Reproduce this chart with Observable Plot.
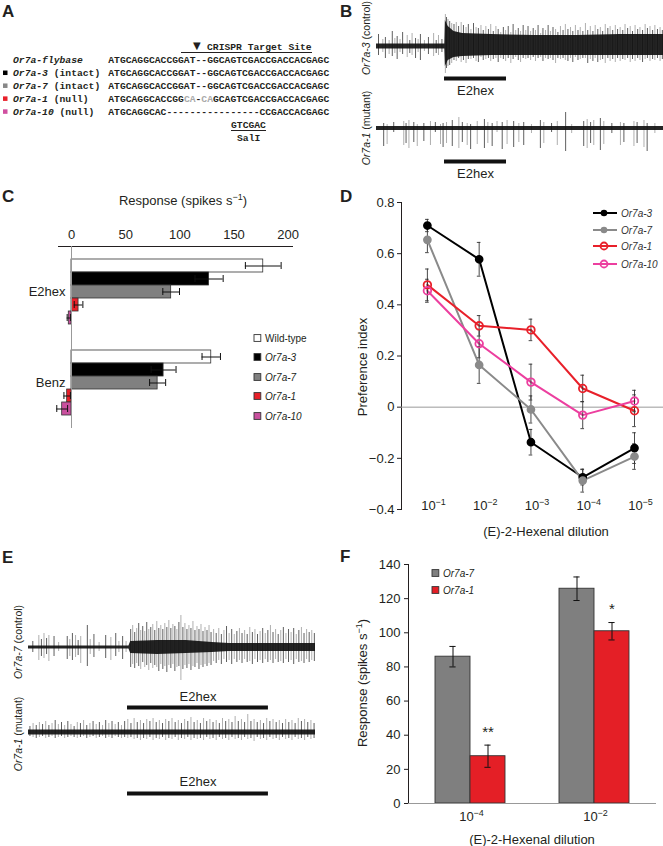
<!DOCTYPE html>
<html><head><meta charset="utf-8">
<script src="https://cdn.jsdelivr.net/npm/d3@7"></script>
<script src="https://cdn.jsdelivr.net/npm/@observablehq/plot@0.6"></script>
<style>
body{margin:0;background:#fff;}
#fig{position:relative;width:663px;height:846px;overflow:hidden;background:#fff;font-family:"Liberation Sans",Arial,sans-serif;color:#231f20}
.pp{position:absolute}
.pp svg{display:block;max-width:none}
#ov{position:absolute;left:0;top:0;pointer-events:none}
</style></head>
<body><div id="fig"></div>
<script>
// ---------- Panel A (sequence alignment)
const seqLabels = ["Or7a-flybase","Or7a-3","Or7a-7","Or7a-1","Or7a-10"];
const seqNotes = [""," (intact)"," (intact)"," (null)"," (null)"];
const seqSquares = [null,"#000000","#888888","#e8202a","#d04fa0"];
const seqParts = [
  [["ATGCAGGCACCGGAT--GGCAGTCGACCGACCACGAGC",0]],
  [["ATGCAGGCACCGGAT--GGCAGTCGACCGACCACGAGC",0]],
  [["ATGCAGGCACCGGAT--GGCAGTCGACCGACCACGAGC",0]],
  [["ATGCAGGCACCGG",0],["CA",1],["-",0],["CA",1],["GCAGTCGACCGACCACGAGC",0]],
  [["ATGCAGGCAC----------------CCGACCACGAGC",0]]
];

// ---------- Panel C (bar chart)
const odors = ["E2hex","Benz"];
const genotypes = ["Wild-type","Or7a-3","Or7a-7","Or7a-1","Or7a-10"];
const genoColors = ["#ffffff","#000000","#808080","#e8202a","#c9509e"];
const respE2hex = [177,127,92,6.5,-2.5];
const errE2hex = [16.5,13,7.7,4,1.5];
const respBenz = [129,85,79.5,-4,-8.6];
const errBenz = [8.5,11.5,7.4,3,5];
const ticksC = [0,50,100,150,200];

// ---------- Panel D (preference index)
const dilExp = [1,2,3,4,5];
const dSeries = ["Or7a-3","Or7a-7","Or7a-1","Or7a-10"];
const dColors = ["#000000","#8a8a8a","#e8202a","#ec3f9f"];
const dFilled = [true,true,false,false];
const prefOr7a3 = [0.71,0.578,-0.137,-0.274,-0.16];
const errOr7a3  = [0.024,0.066,0.05,0.03,0.06];
const prefOr7a7 = [0.654,0.165,-0.009,-0.287,-0.193];
const errOr7a7  = [0.05,0.072,0.053,0.045,0.05];
const prefOr7a1 = [0.478,0.318,0.302,0.073,-0.014];
const errOr7a1  = [0.062,0.04,0.042,0.052,0.062];
const prefOr7a10 = [0.455,0.248,0.098,-0.031,0.024];
const errOr7a10  = [0.045,0.055,0.07,0.053,0.042];
const ticksD = [-0.4,-0.2,0,0.2,0.4,0.6,0.8];

// ---------- Panel F (bars)
const fDilExp = [-4,-2];
const fGenos = ["Or7a-7","Or7a-1"];
const fColors = ["#7f7f7f","#e41f26"];
const fResp7 = [86,125.8];
const fErr7 = [6,6.9];
const fResp1 = [27.7,100.9];
const fErr1 = [6.5,5.1];
const fSig = ["**","*"];
const ticksF = [0,20,40,60,80,100,120,140];

// ---------- Recordings (B, E): [time, up, down] spikes; core bands
const stimB = [23.7,45.3];
const stimE = [34.5,83.6];
const bTopSpikes = [[0.7,12,9],[2.2,7,6],[3.1,9,12],[4.4,6,8],[5.5,15,10],[6.4,8,7],[7.2,10,13],[8.2,7,6],[9.1,14,8],[10.7,11,11],[11.6,6,7],[12.4,13,9],[13.6,8,12],[14.5,7,6],[15.3,12,14],[16.7,6,5],[18.1,9,8],[19.9,13,10],[20.8,6,7],[21.6,11,9],[22.8,7,6],
[24.0,32,27],[24.4,29,22],[24.9,27,20],[25.5,25,19],[26.2,23,17],[27,22,14],[27.8,24,15],[28.6,20,12],[29.5,24,16],[30.3,21,14],[31.2,19,17],[32,22,13],[32.9,17,13],[33.8,23,12],[34.7,19,15],[35.5,18,16],[36.4,21,11],[37.2,16,14],[38.1,20,13],[39,17,12],[39.8,22,15],[40.7,15,13],[41.6,20,12],[42.4,17,16],[43.3,14,12],[44.2,19,13],[45,16,15],[45.9,20,12],[46.8,14,17],[47.6,22,13],[48.5,16,11],[49.4,18,14],[50.2,15,16],[51.1,21,12],[52,16,13],[52.8,20,12],[53.7,15,14],[54.6,18,11],[55.4,16,15],[56.3,21,12],[57.2,13,11],[58,18,15],[58.9,16,12],[59.8,21,13],[60.6,15,12],[61.5,19,14],[62.4,17,17],[63.2,14,12],[64.1,20,13],[65,16,12],[65.8,22,14],[66.7,17,15],[67.6,19,12],[68.4,15,16],[69.3,21,11],[70.2,16,14],[71,19,13],[71.9,15,12],[72.8,23,12],[73.6,16,17],[74.5,20,13],[75.4,15,15],[76.2,21,12],[77.1,17,16],[78,19,14],[78.8,15,13],[79.7,22,17],[80.6,18,12],[81.4,20,15],[82.3,16,13],[83.2,21,16],[84,17,12],[84.9,19,15],[85.8,16,13],[86.6,22,14],[87.5,18,12],[88.4,20,16],[89.2,15,13],[90.1,21,15],[91,17,12],[91.8,19,14],[92.7,16,16],[93.6,22,13],[94.4,18,12],[95.3,20,15],[96.2,16,13],[97,21,14],[97.9,17,12],[98.8,19,15],[99.6,16,13]];
const bTopCoreT = [0,23.8,24,25,27,30,40,55,70,85,100];
const bTopCoreHi = [2.5,2.5,26,20,15,13,12,11,11,12,12];
const bTopCoreLo = [-2.5,-2.5,-20,-14,-11,-10,-9,-9,-9,-9,-9];
const bBotSpikes = [[2.5,5,18],[3.7,4,16],[6,6,4],[9.5,7,17],[10.3,5,15],[11.3,8,20],[13.0,6,14],[14.2,4,18],[16.5,5,13],[18.8,7,17],[20.5,6,4],[22.3,4,16],[23.2,5,19],[24.4,6,15],[26.4,8,18],[28.7,11,20],[29.9,6,14],[31.6,5,17],[32.8,4,21],[35.1,7,16],[37.6,9,20],[38.8,6,15],[40.3,5,18],[42,7,4],[43.8,6,21],[45.5,8,16],[47.8,7,19],[49.6,5,14],[51.3,6,17],[54,4,5],[57.1,8,20],[58.3,6,15],[61,5,4],[63.0,7,17],[65.9,16,23],[68,4,5],[72.2,7,18],[73.4,9,20],[74.6,6,15],[75.7,8,17],[78.0,10,22],[79.2,7,16],[82,5,5],[85.0,6,17],[86.2,5,14],[89.7,7,18],[90.8,6,15],[93.2,8,19],[94.3,5,23],[97,5,5]];
const bBotCoreT = [0,100];
const bBotCoreHi = [2,2];
const bBotCoreLo = [-2,-2];
const eTopSpikes = [[1.5,6,5],[3.6,12,13],[4.5,8,9],[5.4,14,11],[6.3,9,7],[7.1,12,14],[8.9,11,9],[10.5,5,4],[13.5,11,12],[14.4,8,9],[15.3,14,13],[16.4,12,10],[17.3,7,8],[18.2,11,16],[20.5,22,19],[21.5,8,7],[22.8,13,10],[24.6,5,4],[26.9,12,11],[28.7,10,13],[30.4,14,9],[31.5,6,5],[32.8,11,12],[34,6,5],
[35.6,18,20],[36.3,22,17],[37,15,21],[37.7,19,16],[38.4,24,19],[39.1,17,22],[39.8,21,15],[40.5,16,20],[41.2,25,18],[41.9,18,23],[42.6,20,16],[43.3,23,21],[44,17,18],[44.7,26,20],[45.4,19,24],[46.1,22,17],[46.8,18,22],[47.5,24,19],[48.2,20,25],[48.9,27,18],[49.6,19,21],[50.3,23,17],[51,21,24],[51.7,18,20],[52.4,25,19],[53.1,32,33],[53.8,20,22],[54.5,24,18],[55.2,18,21],[55.9,22,17],[56.6,19,23],[57.3,26,19],[58,17,20],[58.7,21,16],[59.4,18,22],[60.1,23,18],[60.8,16,20],[61.5,20,17],[62.2,17,19],[62.9,22,16],[63.6,15,18],[64.5,18,14],[65.4,14,16],[66.3,19,13],[67.2,13,17],[68.1,17,12],[69,21,15],[69.9,14,13],[70.8,18,17],[71.7,13,12],[72.6,16,15],[73.5,19,13],[74.4,14,16],[75.3,17,12],[76.2,13,15],[77.1,20,14],[78,15,17],[78.9,18,12],[79.8,13,15],[80.7,16,13],[81.6,19,16],[82.5,14,12],[83.4,17,15],[84.3,22,13],[85.2,15,16],[86.1,18,12],[87,13,15],[87.9,17,14],[88.8,20,16],[89.7,14,12],[90.6,18,15],[91.5,15,13],[92.4,19,17],[93.3,13,12],[94.2,17,15],[95.1,20,14],[96,14,16],[96.9,18,12],[97.8,15,15],[98.7,17,13],[99.6,14,14]];
const eTopCoreT = [0,35,35.6,45,55,64,70,85,100];
const eTopCoreHi = [1.5,1.5,6,7,7,5,4,4,4];
const eTopCoreLo = [-1.5,-1.5,-6,-7,-6,-5,-4,-4,-4];
const eBotSpikes = [[0.5,6,4],[1.6,9,5],[2.7,7,6],[3.8,10,5],[4.9,8,4],[6,11,6],[7.1,7,5],[8.2,9,4],[9.3,12,6],[10.4,8,5],[11.5,10,4],[12.6,7,6],[13.7,11,5],[14.8,8,4],[15.9,6,5],[17,10,6],[18.1,9,5],[19.2,12,4],[20.3,7,6],[21.4,9,5],[22.5,11,4],[23.6,8,6],[24.7,10,5],[25.8,7,4],[26.9,12,6],[28,9,5],[29.1,11,6],[30.2,8,4],[31.3,10,5],[32.4,7,6],[33.5,11,5],[34.6,13,6],[35.7,9,5],[36.8,14,7],[37.9,10,6],[39,12,8],[40.1,9,6],[41.2,13,7],[42.3,11,5],[43.4,14,8],[44.5,10,6],[45.6,12,7],[46.7,9,5],[47.8,13,8],[48.9,11,6],[50,14,7],[51.1,10,5],[52.2,12,8],[53.3,9,6],[54.4,13,7],[55.5,11,5],[56.6,15,8],[57.7,10,6],[58.8,12,7],[59.9,9,6],[61,14,8],[62.1,11,5],[63.2,13,7],[64.3,10,6],[65.4,12,8],[66.5,9,5],[67.6,14,7],[68.7,11,6],[69.8,13,8],[70.9,10,5],[72,16,7],[73.1,11,6],[74.2,13,8],[75.3,10,5],[76.4,18,7],[77.5,11,6],[78.6,13,9],[79.7,10,5],[80.8,12,7],[81.9,9,6],[83,14,8],[84.1,11,5],[85.2,13,7],[86.3,10,6],[87.4,12,8],[88.5,9,5],[89.6,13,7],[90.7,10,6],[91.8,12,8],[92.9,9,5],[94,14,7],[95.1,11,6],[96.2,13,8],[97.3,10,5],[98.4,12,7],[99.5,9,6]];
const eBotCoreT = [0,100];
const eBotCoreHi = [2.5,2.5];
const eBotCoreLo = [-2.5,-2.5];

// ================= drawing
const fig = document.getElementById("fig");
const FONT = '"Liberation Sans", Arial, sans-serif';
const ST = {fontFamily: FONT, fontSize: "13px", color: "#231f20", background: "transparent", overflow: "visible"};
function place(el, left, top, w, h) {
  const d = document.createElement("div");
  d.className = "pp";
  d.style.left = left + "px"; d.style.top = top + "px";
  d.style.width = w + "px"; d.style.height = h + "px";
  d.appendChild(el); fig.appendChild(d);
}

function tracePlot(spikes, cT, cHi, cLo, dom, w, h, stim, barY, textY) {
  const core = cT.map((t, i) => ({t, hi: cHi[i], lo: cLo[i]}));
  return Plot.plot({
    width: w, height: h, margin: 0, style: ST,
    x: {domain: [0, 100], axis: null},
    y: {domain: dom, axis: null},
    marks: [
      Plot.ruleX(spikes, {x: d => d[0], y1: d => -d[2], y2: d => d[1],
        stroke: (d, i) => (i % 2 ? "#8c8c8c" : "#1a1a1a"), strokeWidth: 0.7}),
      Plot.areaY(core, {x: "t", y1: "lo", y2: "hi", fill: "#111", fillOpacity: 0.92}),
      Plot.ruleY([barY], {x1: stim[0], x2: stim[1], stroke: "#111", strokeWidth: 4}),
      Plot.text(["E2hex"], {x: (stim[0] + stim[1]) / 2, y: textY, text: d => d, fontSize: 13, fill: "#231f20"})
    ]
  });
}
place(tracePlot(bTopSpikes, bTopCoreT, bTopCoreHi, bTopCoreLo, [-54, 36], 287, 90, stimB, -32, -44), 376, 10, 287, 90);
place(tracePlot(bBotSpikes, bBotCoreT, bBotCoreHi, bBotCoreLo, [-57, 23], 287, 80, stimB, -33, -45), 376, 105, 287, 80);
place(tracePlot(eTopSpikes, eTopCoreT, eTopCoreHi, eTopCoreLo, [-68, 42], 287, 110, stimE, -60, -49), 28, 605, 287, 110);
place(tracePlot(eBotSpikes, eBotCoreT, eBotCoreHi, eBotCoreLo, [-75, 20], 287, 95, stimE, -61, -49), 28, 712, 287, 95);

// Panel C
const rowsC = odors.flatMap((o, oi) => genotypes.map((g, gi) => ({
  odor: o, geno: g,
  v: (oi ? respBenz : respE2hex)[gi], e: (oi ? errBenz : errE2hex)[gi], fill: genoColors[gi]})));
place(Plot.plot({
  width: 330, height: 250, marginTop: 55, marginBottom: 12, marginLeft: 58, marginRight: 38,
  style: ST,
  x: {domain: [-12, 204], axis: "top", ticks: ticksC, tickSize: 0, tickPadding: 8, line: true, label: null},
  y: {domain: genotypes, paddingInner: 0, paddingOuter: 0.85, axis: null},
  fy: {domain: odors, padding: 0, axis: null},
  marks: [
    Plot.barX(rowsC, {fy: "odor", y: "geno", x1: 0, x2: "v", fill: "fill", stroke: "#333", strokeWidth: 0.8}),
    Plot.ruleX([0], {stroke: "#999"}),
    Plot.ruleY(rowsC, {fy: "odor", y: "geno", x1: d => d.v - d.e, x2: d => d.v + d.e, stroke: "#111", strokeWidth: 1}),
    Plot.tickX(rowsC, {fy: "odor", y: "geno", x: d => d.v - d.e, insetTop: 3, insetBottom: 3, stroke: "#111"}),
    Plot.tickX(rowsC, {fy: "odor", y: "geno", x: d => d.v + d.e, insetTop: 3, insetBottom: 3, stroke: "#111"}),
    Plot.text(odors, {fy: d => d, text: d => d, frameAnchor: "left", textAnchor: "end", dx: 7, fontSize: 13, fill: "#231f20"})
  ]
}), 0, 190, 330, 250);

// Panel D
const dPref = [prefOr7a3, prefOr7a7, prefOr7a1, prefOr7a10];
const dErr = [errOr7a3, errOr7a7, errOr7a1, errOr7a10];
const rowsD = dSeries.flatMap((g, si) => dilExp.map((x, i) => ({g, x, v: dPref[si][i], e: dErr[si][i], c: dColors[si], filled: dFilled[si]})));
place(Plot.plot({
  width: 333, height: 350, marginTop: 12, marginBottom: 31, marginLeft: 71, marginRight: 0,
  style: ST,
  x: {domain: [0.5, 5.56], axis: null},
  y: {domain: [-0.4, 0.8], ticks: ticksD, tickSize: 4, tickPadding: 3, line: true, label: null,
      tickFormat: d => d === 0 ? "0" : d3.format(".1f")(d)},
  marks: [
    Plot.ruleY([0], {stroke: "#999"}),
    Plot.line(rowsD, {x: "x", y: "v", z: "g", stroke: "c", strokeWidth: 2}),
    Plot.ruleX(rowsD, {x: "x", y1: d => d.v - d.e, y2: d => d.v + d.e, stroke: "#333", strokeWidth: 0.9}),
    Plot.ruleY(rowsD, {y: d => d.v + d.e, x1: d => d.x - 0.035, x2: d => d.x + 0.035, stroke: "#333", strokeWidth: 0.9}),
    Plot.ruleY(rowsD, {y: d => d.v - d.e, x1: d => d.x - 0.035, x2: d => d.x + 0.035, stroke: "#333", strokeWidth: 0.9}),
    Plot.dot(rowsD.filter(d => d.filled), {x: "x", y: "v", r: 3.6, fill: "c", stroke: "c"}),
    Plot.dot(rowsD.filter(d => !d.filled), {x: "x", y: "v", r: 3.8, fill: "none", stroke: "c", strokeWidth: 1.8}),
    Plot.text(dilExp, {x: d => d, text: () => "10", frameAnchor: "bottom", dx: 1, fontSize: 13, fill: "#231f20"}),
    Plot.text(dilExp, {x: d => d, text: d => "\u2212" + d, frameAnchor: "bottom", dx: 8, dy: -5, textAnchor: "start", fontSize: 9, fill: "#231f20"})
  ]
}), 330, 190, 333, 350);

// Panel F
const rowsF = fDilExp.flatMap((dl, i) => [
  {dil: dl, g: fGenos[0], v: fResp7[i], e: fErr7[i], c: fColors[0], sig: ""},
  {dil: dl, g: fGenos[1], v: fResp1[i], e: fErr1[i], c: fColors[1], sig: fSig[i]}]);
place(Plot.plot({
  width: 333, height: 301, marginTop: 19, marginBottom: 43, marginLeft: 77, marginRight: 7,
  style: ST,
  fx: {domain: fDilExp, padding: 0, axis: null},
  x: {domain: fGenos, paddingInner: 0, paddingOuter: 0.75, axis: null},
  y: {domain: [0, 140], ticks: ticksF, tickSize: 4, tickPadding: 4, line: true, label: null},
  marks: [
    Plot.barY(rowsF, {fx: "dil", x: "g", y1: 0, y2: "v", fill: "c", stroke: "#333", strokeWidth: 0.9}),
    Plot.ruleY([0], {stroke: "#999"}),
    Plot.ruleX(rowsF, {fx: "dil", x: "g", y1: d => d.v - d.e, y2: d => d.v + d.e, stroke: "#111", strokeWidth: 1}),
    Plot.tickY(rowsF, {fx: "dil", x: "g", y: d => d.v - d.e, insetLeft: 14.4, insetRight: 14.4, stroke: "#111"}),
    Plot.tickY(rowsF, {fx: "dil", x: "g", y: d => d.v + d.e, insetLeft: 14.4, insetRight: 14.4, stroke: "#111"}),
    Plot.text(rowsF, {fx: "dil", x: "g", y: d => d.v + d.e, text: "sig", dy: -13, fontSize: 15, fill: "#231f20"}),
    Plot.text(fDilExp, {fx: d => d, text: () => "10", frameAnchor: "bottom", dy: 17, dx: -4, fontSize: 13, fill: "#231f20"}),
    Plot.text(fDilExp, {fx: d => d, text: d => "\u2212" + Math.abs(d), frameAnchor: "bottom", dy: 12, dx: 3, textAnchor: "start", fontSize: 9, fill: "#231f20"})
  ]
}), 330, 545, 333, 301);

// ---------- Overlay: panel letters, panel A text, legends, axis titles
let s = `<svg id="ov" width="663" height="846" xmlns="http://www.w3.org/2000/svg" font-family='${FONT}' fill="#231f20">`;
const letters = [["A",2,16.7],["B",340,16.7],["C",2,201.7],["D",340,201.7],["E",2,563],["F",340,561.7]];
for (const [l, x, y] of letters) s += `<text x="${x}" y="${y}" font-size="17" font-weight="bold">${l}</text>`;
// panel A
const MONO = `font-family='"Liberation Mono","Courier New",monospace' font-size="9.7" font-weight="bold"`;
s += `<text x="193" y="49" font-size="10" font-family="DejaVu Sans">\u25BC</text>`;
s += `<text x="207" y="49.5" ${MONO}>CRISPR Target Site</text>`;
s += `<line x1="181" x2="312" y1="52.5" y2="52.5" stroke="#231f20" stroke-width="1.2"/>`;
seqLabels.forEach((lab, i) => {
  const y = 62.8 + 12.93 * i;
  if (seqSquares[i]) s += `<rect x="3" y="${y - 5.2}" width="4.5" height="4.5" fill="${seqSquares[i]}"/>`;
  s += `<text x="13" y="${y}" ${MONO}><tspan font-style="italic">${lab}</tspan>${seqNotes[i]}</text>`;
  s += `<text x="108.3" y="${y}" ${MONO}>` + seqParts[i].map(([t, g]) => `<tspan${g ? ' fill="#aaaaaa"' : ''}>${t}</tspan>`).join("") + `</text>`;
});
s += `<text x="231" y="128.3" ${MONO}>GTCGAC</text>`;
s += `<line x1="231" x2="266" y1="130.5" y2="130.5" stroke="#231f20" stroke-width="1.1"/>`;
s += `<text x="237" y="140.5" ${MONO}>SalI</text>`;
// trace labels
const rot = (x, y, gene, note) => `<text transform="translate(${x},${y}) rotate(-90)" text-anchor="middle" dy="0.35em" font-size="10.5"><tspan font-style="italic">${gene}</tspan> ${note}</text>`;
s += rot(366, 38, "Or7a-3", "(control)") + rot(366, 128, "Or7a-1", "(mutant)");
s += rot(18, 642, "Or7a-7", "(control)") + rot(18, 734, "Or7a-1", "(mutant)");
// C title & legend
s += `<text x="183" y="204.5" text-anchor="middle" font-size="13">Response (spikes s<tspan dy="-5" font-size="9">\u22121</tspan><tspan dy="5">)</tspan></text>`;
const legCY = [338, 357, 377, 396, 416];
genotypes.forEach((g, i) => {
  s += `<rect x="254" y="${legCY[i] - 3.4}" width="6.8" height="6.8" fill="${genoColors[i]}" stroke="#333" stroke-width="0.9"/>`;
  s += `<text x="265" y="${legCY[i] + 3.6}" font-size="10"${i ? ' font-style="italic"' : ''}>${g}</text>`;
});
// D titles & legend
s += `<text transform="translate(362,367) rotate(-90)" text-anchor="middle" dy="0.35em" font-size="13">Preference index</text>`;
s += `<text x="546" y="535.5" text-anchor="middle" font-size="13">(E)-2-Hexenal dilution</text>`;
const legDY = [213, 230, 246, 264];
dSeries.forEach((g, i) => {
  const y = legDY[i];
  s += `<line x1="593" x2="617" y1="${y}" y2="${y}" stroke="${dColors[i]}" stroke-width="2"/>`;
  s += dFilled[i] ? `<circle cx="604" cy="${y}" r="3.3" fill="${dColors[i]}"/>`
                  : `<circle cx="604" cy="${y}" r="3.5" fill="none" stroke="${dColors[i]}" stroke-width="1.8"/>`;
  s += `<text x="621" y="${y + 3.6}" font-size="10" font-style="italic" fill="#333">${g}</text>`;
});
// F titles & legend
s += `<text transform="translate(362,683) rotate(-90)" text-anchor="middle" dy="0.35em" font-size="13">Response (spikes s<tspan dy="-5" font-size="9">\u22121</tspan><tspan dy="5">)</tspan></text>`;
s += `<text x="532" y="844" text-anchor="middle" font-size="13">(E)-2-Hexenal dilution</text>`;
const legFY = [573, 590];
fGenos.forEach((g, i) => {
  s += `<rect x="432" y="${legFY[i] - 3.4}" width="6.8" height="6.8" fill="${fColors[i]}" stroke="#333" stroke-width="0.9"/>`;
  s += `<text x="443" y="${legFY[i] + 3.6}" font-size="10" font-style="italic">${g}</text>`;
});
s += `</svg>`;
fig.insertAdjacentHTML("beforeend", s);
</script>
</body></html>
